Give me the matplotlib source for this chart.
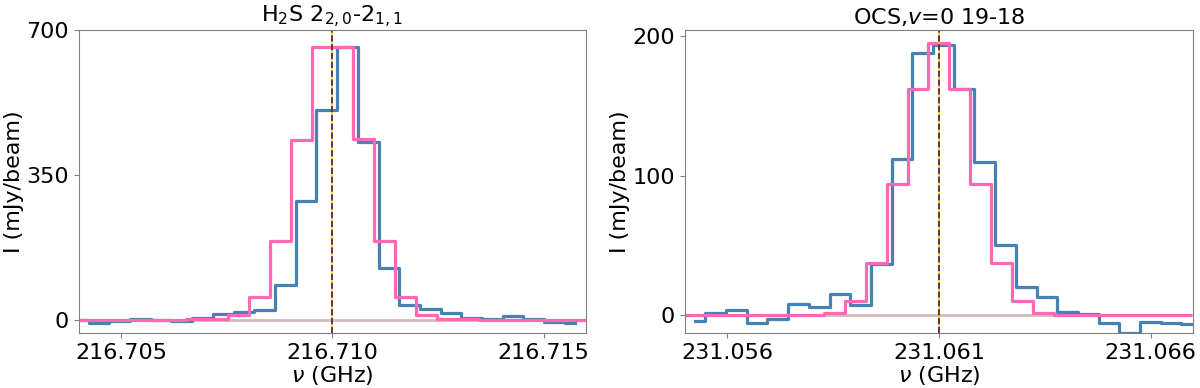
import matplotlib
matplotlib.use("Agg")
import matplotlib.pyplot as plt
from matplotlib.ticker import ScalarFormatter

# H2S 2(2,0)-2(1,1): observed spectrum (blue) and model (pink)
h2s_freq_obs = [216.703985, 216.704475, 216.704965, 216.705455, 216.705945,
                216.706435, 216.706925, 216.707415, 216.707905, 216.708395,
                216.708885, 216.709375, 216.709865, 216.710355, 216.710845,
                216.711335, 216.711825, 216.712315, 216.712805, 216.713295,
                216.713785, 216.714275, 216.714765, 216.715255, 216.715745]
h2s_flux_obs = [0, -6, -2, 2, 0, -2, 6, 14, 20, 25, 86, 287, 508, 658, 430,
                127, 36, 27, 17, 6, 4, 11, 4, -5, -6]
h2s_freq_mod = [216.703813, 216.704308, 216.704803, 216.705298, 216.705793,
                216.706288, 216.706783, 216.707278, 216.707773, 216.708268,
                216.708763, 216.709258, 216.709753, 216.710248, 216.710743,
                216.711238, 216.711733, 216.712228, 216.712723, 216.713218,
                216.713713, 216.714208, 216.714703, 216.715198, 216.715693,
                216.716188]
h2s_flux_mod = [1, 1, 1, 1, 1, 1, 2, 3, 12, 56, 191, 435, 660, 660, 438,
                191, 56, 12, 3, 2, 1, 1, 1, 0, 0, 0]
h2s_rest = 216.710

# OCS v=0 19-18
ocs_freq_obs = [231.055237, 231.055726, 231.056215, 231.056704, 231.057193,
                231.057682, 231.058171, 231.058660, 231.059149, 231.059638,
                231.060127, 231.060616, 231.061105, 231.061594, 231.062083,
                231.062572, 231.063061, 231.063550, 231.064039, 231.064528,
                231.065017, 231.065506, 231.065995, 231.066484, 231.066973]
ocs_flux_obs = [-4.3, 1.4, 4, -5.5, -2.4, 8, 6, 15, 7, 37, 112, 188, 193.5,
                162, 110, 50, 20, 13, 2.4, 1.2, -5.8, -13, -4.8, -5.5, -6]
ocs_freq_mod = [231.055060, 231.055555, 231.056050, 231.056545, 231.057040,
                231.057535, 231.058030, 231.058525, 231.059020, 231.059515,
                231.060010, 231.060505, 231.061000, 231.061495, 231.061990,
                231.062485, 231.062980, 231.063475, 231.063970, 231.064465,
                231.064960, 231.065455, 231.065950, 231.066445, 231.066940]
ocs_flux_mod = [0, 0, 0, 0, 0, 0, 0.5, 1.7, 10, 37.4, 94, 162, 194.7, 162,
                94, 37.4, 10, 1.7, 0.5, 0, 0, 0, 0, 0, 0]
ocs_rest = 231.061

panels = [
    (h2s_freq_obs, h2s_flux_obs, h2s_freq_mod, h2s_flux_mod, h2s_rest,
     r"H$_2$S 2$_{2,0}$-2$_{1,1}$", [216.705, 216.710, 216.715], [0, 350, 700],
     (-30.7, 700)),
    (ocs_freq_obs, ocs_flux_obs, ocs_freq_mod, ocs_flux_mod, ocs_rest,
     r"OCS,$v$=0 19-18", [231.056, 231.061, 231.066], [0, 100, 200],
     (-12.7, 204.3)),
]

fig = plt.figure(figsize=(12, 3.88), dpi=100)
boxes = [[0.0658, 0.1418, 0.4225, 0.781], [0.5708, 0.1418, 0.4233, 0.781]]

for box, (fo, so, fm, sm, rest, title, xt, yt, ylim) in zip(boxes, panels):
    ax = fig.add_axes(box)
    ax.axhline(0, color="rosybrown", alpha=0.6, lw=2)
    ax.step(fo, so, where="mid", color="steelblue", lw=2.3)
    ax.step(fm, sm, where="mid", color="hotpink", lw=2.3)
    ax.axvline(rest, color="gold", lw=1.2)
    ax.axvline(rest, color="#4b1850", lw=1.2, ls="--")
    ax.set_xlim(rest - 0.006, rest + 0.006)
    ax.set_ylim(*ylim)
    ax.set_xticks(xt)
    ax.set_yticks(yt)
    fmt = ScalarFormatter(useOffset=False)
    ax.xaxis.set_major_formatter(fmt)
    ax.set_xticklabels([f"{v:.3f}" for v in xt])
    ax.tick_params(labelsize=16, color="gray")
    for sp in ax.spines.values():
        sp.set_color("gray")
    ax.set_title(title, fontsize=16, pad=4)
    ax.set_xlabel(r"$\nu$ (GHz)", fontsize=16, labelpad=1)
    ax.set_ylabel("I (mJy/beam)", fontsize=16, labelpad=2)

plt.savefig("out.png")
